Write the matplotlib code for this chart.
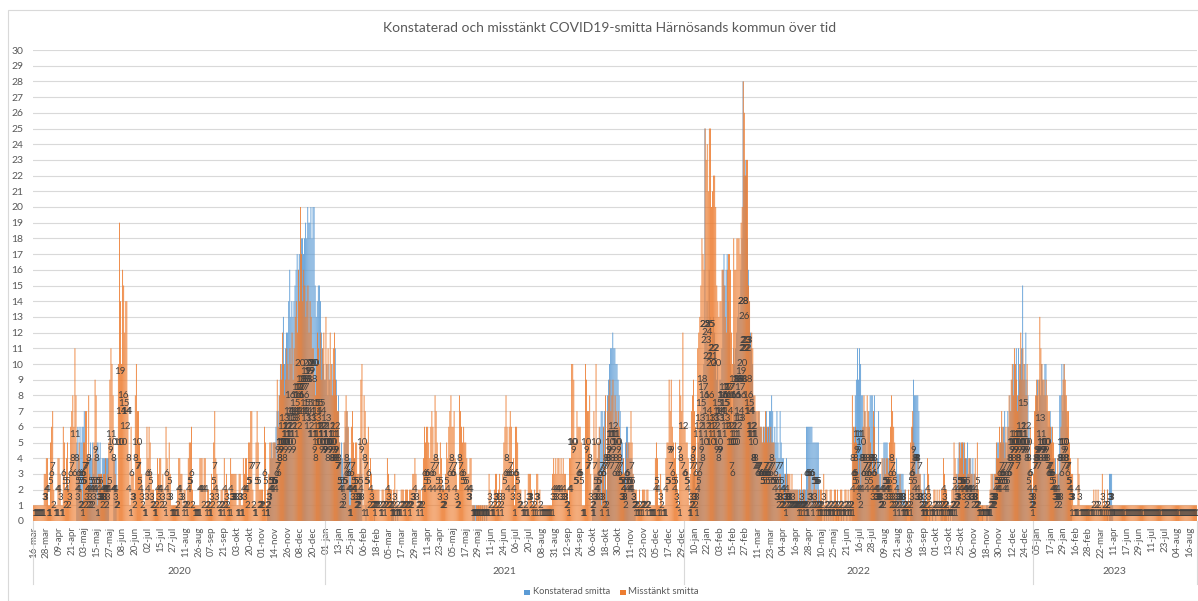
import matplotlib
matplotlib.use("Agg")
import matplotlib.pyplot as plt
from matplotlib.patches import Rectangle
from matplotlib.transforms import blended_transform_factory
import numpy as np

plt.rcParams['font.family'] = ['Lato', 'DejaVu Sans']

TITLE = "Konstaterad och misstänkt COVID19-smitta Härnösands kommun över tid"
SERIES = ["Konstaterad smitta", "Misstänkt smitta"]
YEARS = ["2020", "2021", "2022", "2023"]

ticks_2020 = ["16-mar", "28-mar", "09-apr", "21-apr", "03-maj", "15-maj", "27-maj", "08-jun",
              "20-jun", "02-jul", "15-jul", "27-jul", "11-aug", "26-aug", "07-sep", "21-sep",
              "03-okt", "20-okt", "01-nov", "14-nov", "26-nov", "08-dec", "20-dec"]
ticks_2021 = ["01-jan", "13-jan", "25-jan", "06-feb", "18-feb", "05-mar", "17-mar", "29-mar",
              "11-apr", "23-apr", "05-maj", "17-maj", "29-maj", "11-jun", "24-jun", "06-jul",
              "20-jul", "08-aug", "31-aug", "12-sep", "24-sep", "06-okt", "18-okt", "30-okt",
              "11-nov", "23-nov", "05-dec", "17-dec", "29-dec"]
ticks_2022 = ["10-jan", "22-jan", "03-feb", "15-feb", "27-feb", "11-mar", "23-mar", "04-apr",
              "16-apr", "28-apr", "10-maj", "25-maj", "21-jun", "16-jul", "28-jul", "09-aug",
              "21-aug", "06-sep", "18-sep", "01-okt", "13-okt", "25-okt", "06-nov", "18-nov",
              "30-nov", "12-dec", "24-dec"]
ticks_2023 = ["05-jan", "17-jan", "29-jan", "16-feb", "28-feb", "22-mar", "11-apr", "17-jun",
              "29-jun", "11-jul", "23-jul", "04-aug", "16-aug"]

# Misstänkt smitta (daily counts)
misstankt_2020 = [
    1, 1, 1, 1, 1, 1, 1, 1, 1, 1, 3, 3,
    4, 4, 1, 1, 5, 6, 7, 2, 1, 1, 1, 4,
    4, 3, 1, 1, 6, 5, 2, 4, 5, 2, 3, 6,
    7, 8, 6, 11, 8, 3, 4, 5, 2, 2, 1, 5,
    5, 7, 7, 4, 8, 3, 2, 2, 4, 5, 9, 8,
    1, 3, 3, 3, 3, 2, 3, 3, 4, 2, 3, 5,
    9, 11, 10, 8, 4, 3, 2, 2, 10, 19, 14, 10,
    16, 15, 12, 14, 14, 8, 4, 1, 6, 3, 3, 2,
    8, 10, 7, 7, 5, 4, 3, 2, 1, 1, 3, 6,
    4, 6, 5, 3, 2, 2, 1, 1, 2, 4, 3, 4,
    4, 2, 3, 2, 1, 6, 4, 3, 5, 3, 1, 1,
    1, 1, 1, 1, 2, 4, 4, 3, 3, 1, 2, 2,
    1, 2, 4, 5, 5, 6, 2, 1, 1, 1, 1, 1,
    1, 4, 4, 4, 2, 4, 4, 1, 2, 2, 1, 1,
    3, 2, 5, 7, 4, 3, 2, 1, 1, 2, 2, 1,
    4, 2, 3, 2, 1, 1, 4, 3, 3, 3, 3, 3,
    1, 1, 3, 3, 1, 1, 4, 3, 4, 4, 2, 5,
    5, 7, 7, 2, 1, 1, 5, 7, 5, 2, 2, 2,
    2, 1, 6, 5, 1, 2, 3, 5, 5, 4, 5, 5,
    5, 4, 9, 6, 8, 10, 9, 12, 10, 8, 9, 11,
    10, 9, 11, 10, 12, 9, 11, 13, 14, 12, 16, 14,
    20, 17, 14, 16, 15, 13, 14, 15, 12, 14, 13, 11,
    11, 9, 8, 10, 12, 11, 10, 12, 9, 11, 12, 9,
]
misstankt_2021 = [
    13, 10, 11, 9, 12, 10, 8, 11, 12, 9, 8, 7,
    7, 5, 4, 2, 2, 5, 7, 8, 7, 6, 1, 1,
    6, 7, 5, 4, 5, 5, 3, 3, 5, 9, 10, 1,
    8, 7, 5, 5, 6, 2, 4, 3, 2, 2, 2, 2,
    2, 2, 2, 1, 1, 2, 2, 1, 2, 2, 4, 3,
    2, 2, 2, 1, 2, 3, 1, 2, 1, 1, 1, 2,
    2, 2, 1, 2, 2, 2, 1, 2, 2, 2, 3, 3,
    4, 3, 1, 2, 2, 2, 1, 2, 4, 6, 5, 6,
    6, 5, 4, 6, 7, 6, 4, 8, 7, 5, 4, 3,
    5, 4, 2, 2, 2, 3, 5, 4, 6, 7, 8, 6,
    6, 7, 4, 3, 2, 2, 8, 7, 6, 5, 6, 5,
    5, 4, 3, 3, 4, 4, 1, 1, 1, 0, 1, 1,
    1, 1, 1, 1, 1, 1, 1, 1, 1, 1, 3, 2,
    1, 1, 1, 2, 3, 3, 1, 2, 3, 1, 2, 3,
    5, 6, 8, 6, 4, 6, 7, 6, 3, 4, 1, 6,
    6, 5, 3, 2, 2, 1, 1, 1, 2, 1, 1, 3,
    3, 3, 2, 1, 1, 2, 1, 3, 3, 1, 2, 1,
    1, 1, 1, 1, 1, 1, 1, 1, 1, 1, 3, 4,
    3, 4, 3, 4, 4, 3, 4, 3, 4, 3, 3, 2,
    2, 1, 4, 4, 10, 10, 9, 5, 5, 7, 6, 6,
    6, 5, 1, 1, 1, 10, 9, 7, 7, 8, 3, 1,
    2, 7, 5, 10, 4, 5, 6, 3, 1, 3, 6, 2,
    8, 1, 7, 8, 9, 7, 8, 9, 6, 8, 7, 6,
    7, 6, 5, 3, 3, 4, 3, 2, 5, 4, 5, 5,
    7, 5, 3, 2, 2, 2, 1, 1, 2, 1, 1, 2,
    2, 2, 1, 2, 2, 1, 1, 1, 1, 1, 1, 4,
    5, 4, 1, 1, 3, 2, 1, 1, 1, 4, 5, 5,
    9, 7, 9, 6, 5, 4, 5, 3, 2, 1, 9, 8,
    7, 12, 6,
]
misstankt_2022 = [
    6, 5, 5, 4, 1, 3, 7, 8, 9,
    7, 6, 3, 11, 12, 13, 15, 18, 17, 16, 25, 23, 24, 21, 25, 25, 20, 21, 22, 22, 20,
    15, 14, 13, 14, 14, 16, 16, 15, 13, 12, 16, 17, 17, 16, 12, 10, 18, 16, 16, 18,
    18, 18, 17, 19, 20, 28, 26,
    22, 23, 23, 15, 14, 11, 12, 11, 8, 8, 7, 7, 7, 7, 6, 6, 5, 6, 5, 7, 6, 5, 6, 5,
    6, 5, 5, 5, 4, 3, 3, 2, 3, 3, 2, 2,
    2, 1, 3, 2, 3, 3, 3, 2, 3, 2, 2, 2,
    2, 2, 1, 2, 1, 3, 1, 2, 2, 1, 1, 2,
    3, 3, 2, 1, 2, 3, 2, 2, 1, 2, 1, 2,
    2, 1, 3, 1, 2, 2, 1, 1, 2, 2, 1, 1, 2, 2, 1, 2, 1, 1, 2, 2, 1, 1, 2, 2, 1, 2, 1, 2,
    2, 8, 6, 5, 6, 5, 4, 3, 4, 2, 4, 6, 8, 7, 6, 8, 7, 6, 5, 4, 3, 7, 6, 3, 4, 3, 3, 2,
    2, 4, 2, 4, 3, 4, 4, 3, 5, 6, 8, 7, 6, 5, 3, 2, 1, 2, 3, 2, 1, 1, 1, 2, 1, 1, 2, 1,
    5, 6, 7, 5, 4, 3, 3, 4, 3, 3, 2, 1, 1, 2, 1, 1, 4, 3, 2, 1, 1, 1, 2, 2, 1, 2, 1, 2,
    1, 2, 2, 4, 3, 2, 2, 1, 1, 1, 1, 2, 2, 5, 4, 3, 2, 3, 5, 4, 5, 5, 3, 5, 4, 2, 3, 4,
    4, 3, 3, 2, 3, 4, 2, 5, 2, 1, 1, 1, 1, 1, 1, 1, 1, 1, 1, 2, 3, 3, 2, 3, 3, 5, 4, 4,
    6, 5, 7, 6, 5, 4, 6, 5, 6, 8, 7, 9, 10, 8, 11, 10, 9, 7, 8, 10, 12, 9, 11, 10, 9, 8,
    10, 5, 4, 6, 3, 1,
]
misstankt_2023 = [
    3, 7, 8, 9, 8, 9, 13, 11, 10, 9, 9, 8, 9, 8, 7, 7,
    6, 5, 6, 5, 4, 3, 3, 4, 2, 3, 6, 8, 9, 10, 9, 8, 7, 7, 5, 4, 3,
    3, 1, 1, 1, 1, 4, 3, 1, 1, 1, 1, 1, 1, 1, 1, 1, 1, 1, 1, 1,
    2, 1, 2, 1, 2, 1, 1, 1, 3, 1, 2, 1, 1, 2, 1, 1, 1, 1, 1,
    1, 1, 1, 1, 1, 1, 1, 1, 1, 1, 1, 1, 1, 1, 1, 1, 1, 1, 1, 1,
    1, 1, 1, 1, 1, 1, 1, 1, 1, 1, 1, 1, 1, 1, 1, 1, 1, 1, 1, 1,
    1, 1, 1, 1, 1, 1, 1, 1, 1, 1, 1, 1, 1, 1, 1, 1, 1, 1, 1, 1,
    1, 1, 1, 1, 1, 1, 1, 1, 1, 1, 1, 1, 1, 1, 1, 1, 1, 1, 1,
]

# Konstaterad smitta (daily counts)
konstaterad_2020 = [
    0, 0, 0, 0, 0, 0, 0, 0, 0, 0, 0, 0,
    0, 0, 0, 0, 0, 0, 0, 0, 0, 0, 0, 0,
    0, 0, 0, 0, 0, 0, 0, 0, 0, 0, 0, 0,
    0, 0, 0, 0, 0, 5, 6, 4, 6, 5, 6, 6,
    7, 2, 3, 4, 2, 4, 5, 4, 5, 3, 4, 4,
    5, 5, 4, 5, 3, 4, 4, 4, 4, 4, 4, 4,
    0, 0, 0, 0, 4, 4, 4, 0, 0, 0, 0, 0,
    0, 0, 0, 0, 0, 0, 0, 0, 0, 0, 0, 0,
    0, 0, 0, 0, 0, 0, 0, 0, 0, 0, 0, 0,
    0, 0, 0, 0, 0, 0, 0, 0, 0, 0, 0, 0,
    0, 0, 0, 0, 0, 0, 0, 0, 0, 0, 0, 0,
    0, 0, 0, 0, 0, 0, 0, 0, 0, 0, 0, 0,
    0, 0, 0, 0, 0, 0, 0, 0, 0, 0, 0, 0,
    0, 0, 0, 0, 0, 0, 0, 0, 0, 0, 0, 0,
    0, 0, 0, 0, 0, 0, 0, 0, 0, 0, 0, 0,
    0, 0, 0, 0, 0, 0, 0, 0, 0, 0, 0, 0,
    0, 0, 0, 0, 0, 0, 0, 0, 0, 0, 0, 0,
    0, 0, 0, 0, 0, 0, 0, 0, 0, 0, 0, 0,
    0, 0, 0, 0, 0, 1, 2, 3, 4, 5, 4, 5,
    5, 6, 7, 7, 8, 9, 10, 10, 13, 10, 11, 12,
    12, 14, 16, 13, 14, 13, 14, 15, 16, 17, 16, 17,
    17, 18, 18, 17, 18, 19, 18, 20, 19, 19, 20, 18,
    20, 20, 15, 13, 14, 15, 15, 14, 12, 11, 10, 9,
]
konstaterad_2021 = [
    9, 10, 8, 10, 9, 8, 10, 9, 8, 11, 9, 7,
    8, 5, 4, 5, 4, 3, 5, 6, 7, 6, 4, 4,
    4, 3, 4, 4, 3, 2, 2, 2, 3, 4, 3, 0,
    0, 0, 1, 0, 0, 0, 0, 0, 0, 0, 1, 0,
    0, 0, 0, 0, 0, 0, 0, 0, 0, 0, 0, 0,
    0, 0, 1, 1, 1, 0, 1, 0, 1, 0, 0, 0,
    0, 0, 0, 0, 0, 0, 0, 0, 0, 0, 0, 0,
    0, 0, 0, 0, 0, 0, 0, 0, 0, 0, 0, 0,
    0, 0, 0, 0, 0, 0, 0, 0, 0, 0, 0, 0,
    0, 0, 0, 0, 0, 0, 0, 0, 0, 0, 0, 0,
    0, 0, 0, 0, 0, 0, 0, 0, 0, 0, 0, 0,
    0, 0, 0, 0, 0, 0, 0, 1, 1, 1, 1, 0,
    1, 0, 1, 0, 1, 0, 1, 0, 1, 0, 0, 0,
    0, 0, 0, 0, 0, 0, 0, 0, 0, 0, 0, 0,
    0, 0, 0, 0, 0, 0, 0, 0, 0, 0, 0, 0,
    0, 0, 0, 0, 0, 0, 0, 0, 0, 0, 0, 0,
    0, 0, 0, 0, 0, 0, 0, 0, 0, 0, 0, 0,
    0, 0, 0, 0, 0, 0, 0, 0, 0, 0, 0, 0,
    0, 0, 0, 0, 0, 0, 0, 0, 0, 0, 0, 0,
    0, 0, 0, 0, 0, 0, 0, 0, 0, 0, 0, 0,
    0, 0, 0, 0, 0, 0, 0, 0, 0, 0, 0, 0,
    1, 2, 3, 3, 3, 4, 5, 6, 7, 7, 6, 7,
    7, 2, 8, 9, 10, 11, 11, 12, 11, 11, 10, 10,
    9, 8, 7, 5, 5, 4, 3, 5, 6, 6, 5, 4,
    4, 4, 3, 2, 1, 0, 0, 0, 0, 0, 0, 0,
    0, 0, 0, 0, 0, 0, 0, 0, 0, 0, 0, 0,
    0, 0, 0, 0, 0, 0, 0, 0, 0, 0, 0, 0,
    0, 0, 0, 0, 0, 0, 0, 0, 0, 0, 0, 0,
    0, 0, 0,
]
konstaterad_2022 = [
    0, 0, 0, 0, 0,
    1, 2, 2, 3, 3, 2, 1, 4, 5, 6, 7, 9, 8, 10,
    25, 12, 14, 11, 16, 13, 10, 12, 13, 12, 11,
    9, 10, 8, 9, 9, 11, 16, 17, 15, 16, 17, 14, 12, 10, 7, 6, 11, 10, 11, 12,
    13, 14, 13, 16, 18, 28, 22,
    23, 22, 18, 16, 14, 12, 11, 10, 8, 7, 7, 6, 6, 7, 6, 6, 5, 6, 6, 6, 7, 6, 6, 7,
    7, 8, 7, 5, 6, 5, 7, 5, 4, 7, 5, 4,
    4, 3, 3, 4, 3, 2, 2, 2, 2, 2, 2, 2,
    2, 2, 2, 2, 2, 2, 2, 2, 2, 2, 6, 6,
    6, 6, 6, 6, 5, 5, 5, 5, 5, 5, 2, 1,
    1, 0, 0, 1, 0, 1, 0, 1, 0, 1, 0, 1, 0, 0, 1, 0, 1, 0, 0, 1, 0, 1, 0, 0, 1, 0, 0, 1,
    0, 1, 4, 6, 8, 9, 11, 9, 11, 10, 8, 8, 6, 7, 5, 4, 6, 7, 8, 8, 8, 6, 8, 4, 3, 4, 7, 3,
    3, 2, 4, 5, 5, 5, 5, 4, 4, 3, 2, 3, 2, 1, 2, 4, 3, 3, 3, 3, 3, 3, 2, 2, 1, 0, 0, 0,
    2, 3, 6, 9, 8, 8, 8, 8, 7, 3, 2, 1, 2, 3, 2, 1, 0, 0, 1, 0, 0, 1, 0, 0, 1, 0, 0, 0,
    0, 1, 1, 0, 1, 2, 1, 0, 1, 0, 1, 0, 1, 2, 1, 2, 3, 4, 5, 5, 4, 5, 5, 4, 4, 4, 5, 3,
    4, 4, 3, 4, 3, 3, 2, 2, 1, 0, 0, 0, 1, 0, 0, 0, 1, 1, 0, 1, 2, 2, 3, 2, 3, 4, 5, 5,
    4, 5, 6, 5, 6, 7, 5, 4, 7, 6, 8, 7, 9, 10, 10, 9, 11, 8, 11, 9, 10, 11, 15, 9, 10, 12,
    9, 8, 6, 3, 2, 2,
]
konstaterad_2023 = [
    2, 4, 7, 8, 9, 7, 9, 8, 10, 9, 8, 10, 10, 7, 6, 6,
    7, 6, 4, 4, 3, 4, 2, 3, 3, 8, 8, 10, 7, 10, 8, 7, 6, 5, 4, 3, 1,
    0, 0, 0, 0, 0, 0, 0, 0, 0, 0, 0, 0, 0, 0, 0, 0, 0, 0, 0, 0,
    0, 0, 0, 0, 0, 0, 0, 0, 0, 0, 0, 0, 0, 2, 0, 3, 3, 3, 1,
    0, 0, 0, 0, 0, 0, 0, 0, 0, 0, 0, 0, 0, 0, 0, 0, 0, 0, 0, 0,
    0, 0, 0, 0, 0, 0, 0, 0, 0, 0, 0, 0, 0, 0, 0, 0, 0, 0, 0, 0,
    0, 0, 0, 0, 0, 0, 0, 0, 0, 0, 0, 0, 0, 0, 0, 0, 0, 0, 0, 0,
    0, 0, 0, 0, 0, 0, 0, 0, 0, 0, 0, 0, 0, 0, 0, 0, 0, 0, 0,
]

misstankt_years = [misstankt_2020, misstankt_2021, misstankt_2022, misstankt_2023]
konstaterad_years = [konstaterad_2020, konstaterad_2021, konstaterad_2022, konstaterad_2023]
tick_labels = ticks_2020 + ticks_2021 + ticks_2022 + ticks_2023

misstankt = np.array(sum(misstankt_years, []))
konstaterad = np.array(sum(konstaterad_years, []))
n = len(misstankt)
x = np.arange(n)

BLUE = "#5B9BD5"
ORANGE = "#ED7D31"
GRID = "#D9D9D9"
TEXT = "#595959"
LABEL = "#404040"

W, H = 1198, 601
fig = plt.figure(figsize=(W / 100, H / 100), dpi=100)
fig.patch.set_facecolor("white")

# chart frame
fig.add_artist(Rectangle((8 / W, 0), (W + 20) / W, (H - 10) / H, transform=fig.transFigure,
                         fill=False, edgecolor=GRID, linewidth=0.8))

L, R, B, T = 33, 1197, 521, 50
ax = fig.add_axes([L / W, 1 - B / H, (R - L) / W, (B - T) / H])
ax.set_facecolor("none")

# columns: the two series sit side by side within each day, overlapping
off = 0.1
bw = 0.8
ax.bar(x - off, konstaterad, width=bw, color=BLUE, linewidth=0, zorder=2, snap=False)
ax.bar(x + off, misstankt, width=bw, color=ORANGE, linewidth=0, zorder=2, snap=False)

# data labels in the middle of each column
for xs, vals in ((x - off, konstaterad), (x + off, misstankt)):
    for xi, v in zip(xs, vals):
        if v > 0:
            ax.text(xi, v / 2, str(int(v)), ha="center", va="center", fontsize=7,
                    color=LABEL, zorder=3)

ax.set_xlim(-0.5, n - 0.5)
ax.set_ylim(0, 30)
ax.set_yticks(range(0, 31))
ax.yaxis.grid(True, color=GRID, linewidth=0.8, zorder=0)
ax.set_axisbelow(True)
for s in ax.spines.values():
    s.set_visible(False)
ax.tick_params(axis="y", length=0, pad=7, labelsize=7.5, labelcolor=TEXT)
ax.set_xticks(np.arange(len(tick_labels)) * 12)
ax.set_xticklabels(tick_labels, rotation=90, fontsize=7, color=TEXT)
ax.tick_params(axis="x", length=0, pad=4)
ax.axhline(0, color=GRID, linewidth=0.8, zorder=1)

# year group labels and separators below the axis
trans = blended_transform_factory(ax.transData, fig.transFigure)
start = 0
bounds = [-0.5]
for yr, vals in zip(YEARS, misstankt_years):
    end = start + len(vals)
    ax.text((start + end - 1) / 2, 1 - 571 / H, yr, transform=trans, ha="center",
            va="center", fontsize=7.5, color=TEXT, clip_on=False)
    bounds.append(end - 0.5)
    start = end
for b in bounds:
    ax.plot([b, b], [1 - B / H, 1 - 584 / H], transform=trans, color=GRID,
            linewidth=0.8, clip_on=False)

# title
title = fig.text(610 / W, 1 - 28 / H, TITLE, ha="center", va="center", fontsize=11, color=TEXT)

# legend
leg_items = [(527, 533, 77, BLUE, SERIES[0]), (623, 628, 70, ORANGE, SERIES[1])]
leg_texts = []
for sx, tx, tw, col, lab in leg_items:
    fig.add_artist(Rectangle(((sx - 3) / W, 1 - 595 / H), 5.5 / W, 5.5 / H,
                             transform=fig.transFigure, color=col, linewidth=0))
    t = fig.text(tx / W, 1 - 592 / H, lab, ha="left", va="center", fontsize=7.5, color=TEXT)
    leg_texts.append((t, tw))

fig.canvas.draw()
rend = fig.canvas.get_renderer()
bb = title.get_window_extent(rend)
title.set_fontsize(title.get_fontsize() * 454 / bb.width)
for t, tw in leg_texts:
    bb = t.get_window_extent(rend)
    t.set_fontsize(t.get_fontsize() * tw / bb.width)

fig.savefig("out.png", dpi=100, facecolor="white")
